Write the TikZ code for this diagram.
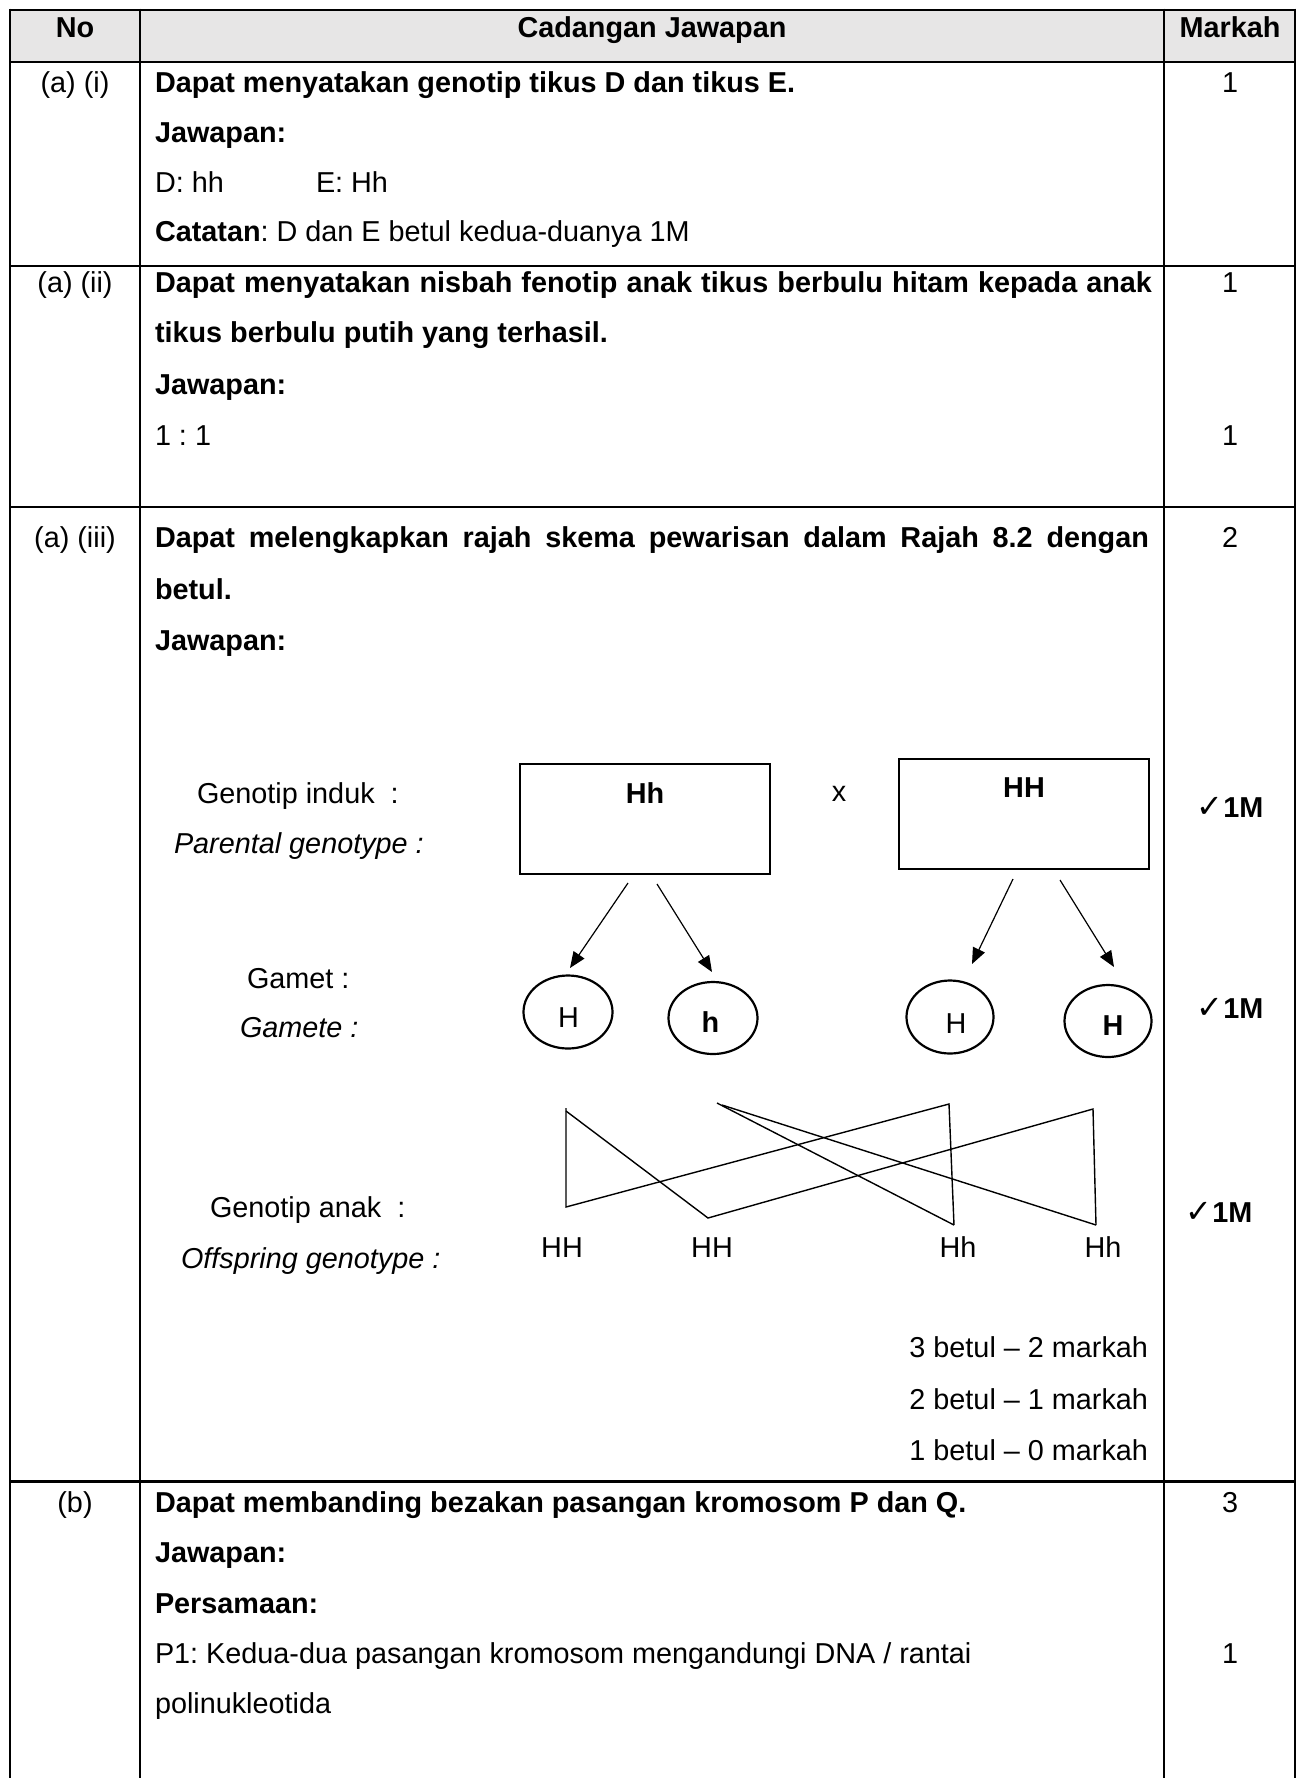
\documentclass[tikz,border=0pt]{standalone}
\usepackage{fontspec}
\setmainfont{Liberation Sans}
\newfontfamily\symfont{DejaVu Sans}
\usetikzlibrary{arrows.meta,shapes.geometric}
\definecolor{hdr}{RGB}{231,230,230}
\newcommand{\fsz}{\fontsize{28.8pt}{34pt}\selectfont\frenchspacing}
\newcommand{\chk}{{\symfont\bfseries\fontsize{32pt}{32pt}\selectfont ✓}}
\begin{document}
\frenchspacing
\begin{tikzpicture}[x=1pt,y=-1pt,font=\fsz,
  txt/.style={anchor=base west,inner sep=0pt,outer sep=0pt},
  ctxt/.style={anchor=base,inner sep=0pt,outer sep=0pt},
  rtxt/.style={anchor=base east,inner sep=0pt,outer sep=0pt},
  gridline/.style={line width=2pt,black},
  thickline/.style={line width=3.5pt,black},
  pbox/.style={draw,line width=1.2pt,minimum width=250pt,minimum height=110pt,inner sep=0pt},
  gam/.style={draw,ellipse,line width=2.2pt,inner sep=0pt},
  arr/.style={line width=1.2pt,-{Triangle[length=16pt,width=13pt]}},
  crossline/.style={line width=1.4pt},
  tick/.style={anchor=base,inner sep=0pt,font=\fsz\bfseries}]
\useasboundingbox (0,0) rectangle (1300,1778);
\fill[white] (0,0) rectangle (1300,1778);
% header fill
\fill[hdr] (10,9.5) rectangle (1295,62);
% grid
\draw[gridline] (10,9.5) -- (1295,9.5);
\draw[gridline] (10,62) -- (1295,62);
\draw[gridline] (10,265.5) -- (1295,265.5);
\draw[gridline] (10,507) -- (1295,507);
\draw[thickline] (10,1481.5) -- (1295,1481.5);
\draw[gridline] (10,8.5) -- (10,1778);
\draw[gridline] (140,8.5) -- (140,1778);
\draw[gridline] (1164,8.5) -- (1164,1778);
\draw[gridline] (1295,8.5) -- (1295,1778);
% header
\node[ctxt,font=\fsz\bfseries] (hNo) at (75,37) {No};
\node[ctxt,font=\fsz\bfseries] (hCJ) at (652,37) {Cadangan Jawapan};
\node[ctxt,font=\fsz\bfseries] (hMk) at (1230,37) {Markah};
% row a(i)
\node[ctxt] (n1) at (75,92) {(a) (i)};
\node[txt,font=\fsz\bfseries] (r1a) at (155,92) {Dapat menyatakan genotip tikus D dan tikus E.};
\node[txt,font=\fsz\bfseries] (r1b) at (155,142) {Jawapan:};
\node[txt] (r1c) at (155,192) {D: hh};
\node[txt] (r1d) at (316,192) {E: Hh};
\node[txt] (r1e) at (155,241) {\textbf{Catatan}: D dan E betul kedua-duanya 1M};
\node[ctxt] (m1) at (1230,92) {1};
% row a(ii)
\node[ctxt] (n2) at (75,292) {(a) (ii)};
\node[txt,font=\fsz\bfseries] (r2a) at (155,292) {\makebox[997pt][s]{Dapat menyatakan nisbah fenotip anak tikus berbulu hitam kepada anak}};
\node[txt,font=\fsz\bfseries] (r2b) at (155,342) {tikus berbulu putih yang terhasil.};
\node[txt,font=\fsz\bfseries] (r2c) at (155,394) {Jawapan:};
\node[txt] (r2d) at (155,445) {1 : 1};
\node[ctxt] (m2a) at (1230,292) {1};
\node[ctxt] (m2b) at (1230,445) {1};
% row a(iii)
\node[ctxt] (n3) at (75,547) {(a) (iii)};
\node[txt,font=\fsz\bfseries] (r3a) at (155,547) {\makebox[994pt][s]{Dapat melengkapkan rajah skema pewarisan dalam Rajah 8.2 dengan}};
\node[txt,font=\fsz\bfseries] (r3b) at (155,599) {betul.};
\node[txt,font=\fsz\bfseries] (r3c) at (155,650) {Jawapan:};
\node[ctxt] (m3) at (1230,547) {2};
% diagram labels
\node[txt] (lGI) at (197,803) {Genotip induk\ \ :};
\node[txt,font=\fsz\itshape] (lPG) at (174,853) {Parental genotype :};
\node[txt] (lGa) at (247,988) {Gamet :};
\node[txt,font=\fsz\itshape] (lGe) at (240,1037) {Gamete :};
\node[txt] (lGA) at (210,1217) {Genotip anak\ \ :};
\node[txt,font=\fsz\itshape] (lOG) at (181,1268) {Offspring genotype :};
% parent boxes
\node[pbox] (pL) at (645,819) {};
\node[pbox] (pR) at (1024,814) {};
\node[ctxt,font=\fsz\bfseries] (tL) at (645,803) {Hh};
\node[ctxt,font=\fsz\bfseries] (tR) at (1024,797) {HH};
\node[ctxt] (tx) at (839,801) {x};
% gametes
\node[gam,minimum width=89pt,minimum height=73pt] (g1) at (568,1012) {};
\node[gam,minimum width=89pt,minimum height=72pt] (g2) at (713,1018) {};
\node[gam,minimum width=87pt,minimum height=73pt] (g3) at (950,1017) {};
\node[gam,minimum width=87pt,minimum height=72pt] (g4) at (1108,1021) {};
\node[ctxt] (gt1) at (568.5,1027) {H};
\node[ctxt,font=\fsz\bfseries] (gt2) at (710.5,1032) {h};
\node[ctxt] (gt3) at (956,1033) {H};
\node[ctxt,font=\fsz\bfseries] (gt4) at (1113,1035) {H};
% arrows
\coordinate (a1s) at (628,883); \coordinate (a1e) at (570,968);
\coordinate (a2s) at (657,884); \coordinate (a2e) at (712,972);
\coordinate (a3s) at (1013,879); \coordinate (a3e) at (972,964);
\coordinate (a4s) at (1060,880); \coordinate (a4e) at (1114,967);
\draw[arr] (a1s) -- (a1e);
\draw[arr] (a2s) -- (a2e);
\draw[arr] (a3s) -- (a3e);
\draw[arr] (a4s) -- (a4e);
% offspring lines
\coordinate (q1) at (566,1108);
\coordinate (q2) at (566,1207);
\coordinate (q3) at (949,1104);
\coordinate (q4) at (954,1225);
\coordinate (q5) at (566,1111);
\coordinate (q6) at (708,1218);
\coordinate (q7) at (1093,1109);
\coordinate (q8) at (1096,1225);
\coordinate (q9) at (717,1103);
\coordinate (q10) at (722,1105);
\draw[crossline] (q1) -- (q2) -- (q3) -- (q4);
\draw[crossline] (q5) -- (q6) -- (q7) -- (q8);
\draw[crossline] (q9) -- (q4);
\draw[crossline] (q10) -- (q8);
\node[ctxt] (o1) at (562,1257) {HH};
\node[ctxt] (o2) at (712,1257) {HH};
\node[ctxt] (o3) at (958,1257) {Hh};
\node[ctxt] (o4) at (1103,1257) {Hh};
% ticks
\node[tick] (k1) at (1230,817) {\chk 1M};
\node[tick] (k2) at (1230,1018) {\chk 1M};
\node[tick] (k3) at (1219,1222) {\chk 1M};
% scoring
\node[rtxt] (s1) at (1148,1357) {3 betul -- 2 markah};
\node[rtxt] (s2) at (1148,1409) {2 betul -- 1 markah};
\node[rtxt] (s3) at (1148,1460) {1 betul -- 0 markah};
% row b
\node[ctxt] (n4) at (75,1512) {(b)};
\node[txt,font=\fsz\bfseries] (r4a) at (155,1512) {Dapat membanding bezakan pasangan kromosom P dan Q.};
\node[txt,font=\fsz\bfseries] (r4b) at (155,1562) {Jawapan:};
\node[txt,font=\fsz\bfseries] (r4c) at (155,1613) {Persamaan:};
\node[txt] (r4d) at (155,1663) {P1: Kedua-dua pasangan kromosom mengandungi DNA / rantai};
\node[txt] (r4e) at (155,1713) {polinukleotida};
\node[ctxt] (m4a) at (1230,1512) {3};
\node[ctxt] (m4b) at (1230,1663) {1};
\end{tikzpicture}
\end{document}
